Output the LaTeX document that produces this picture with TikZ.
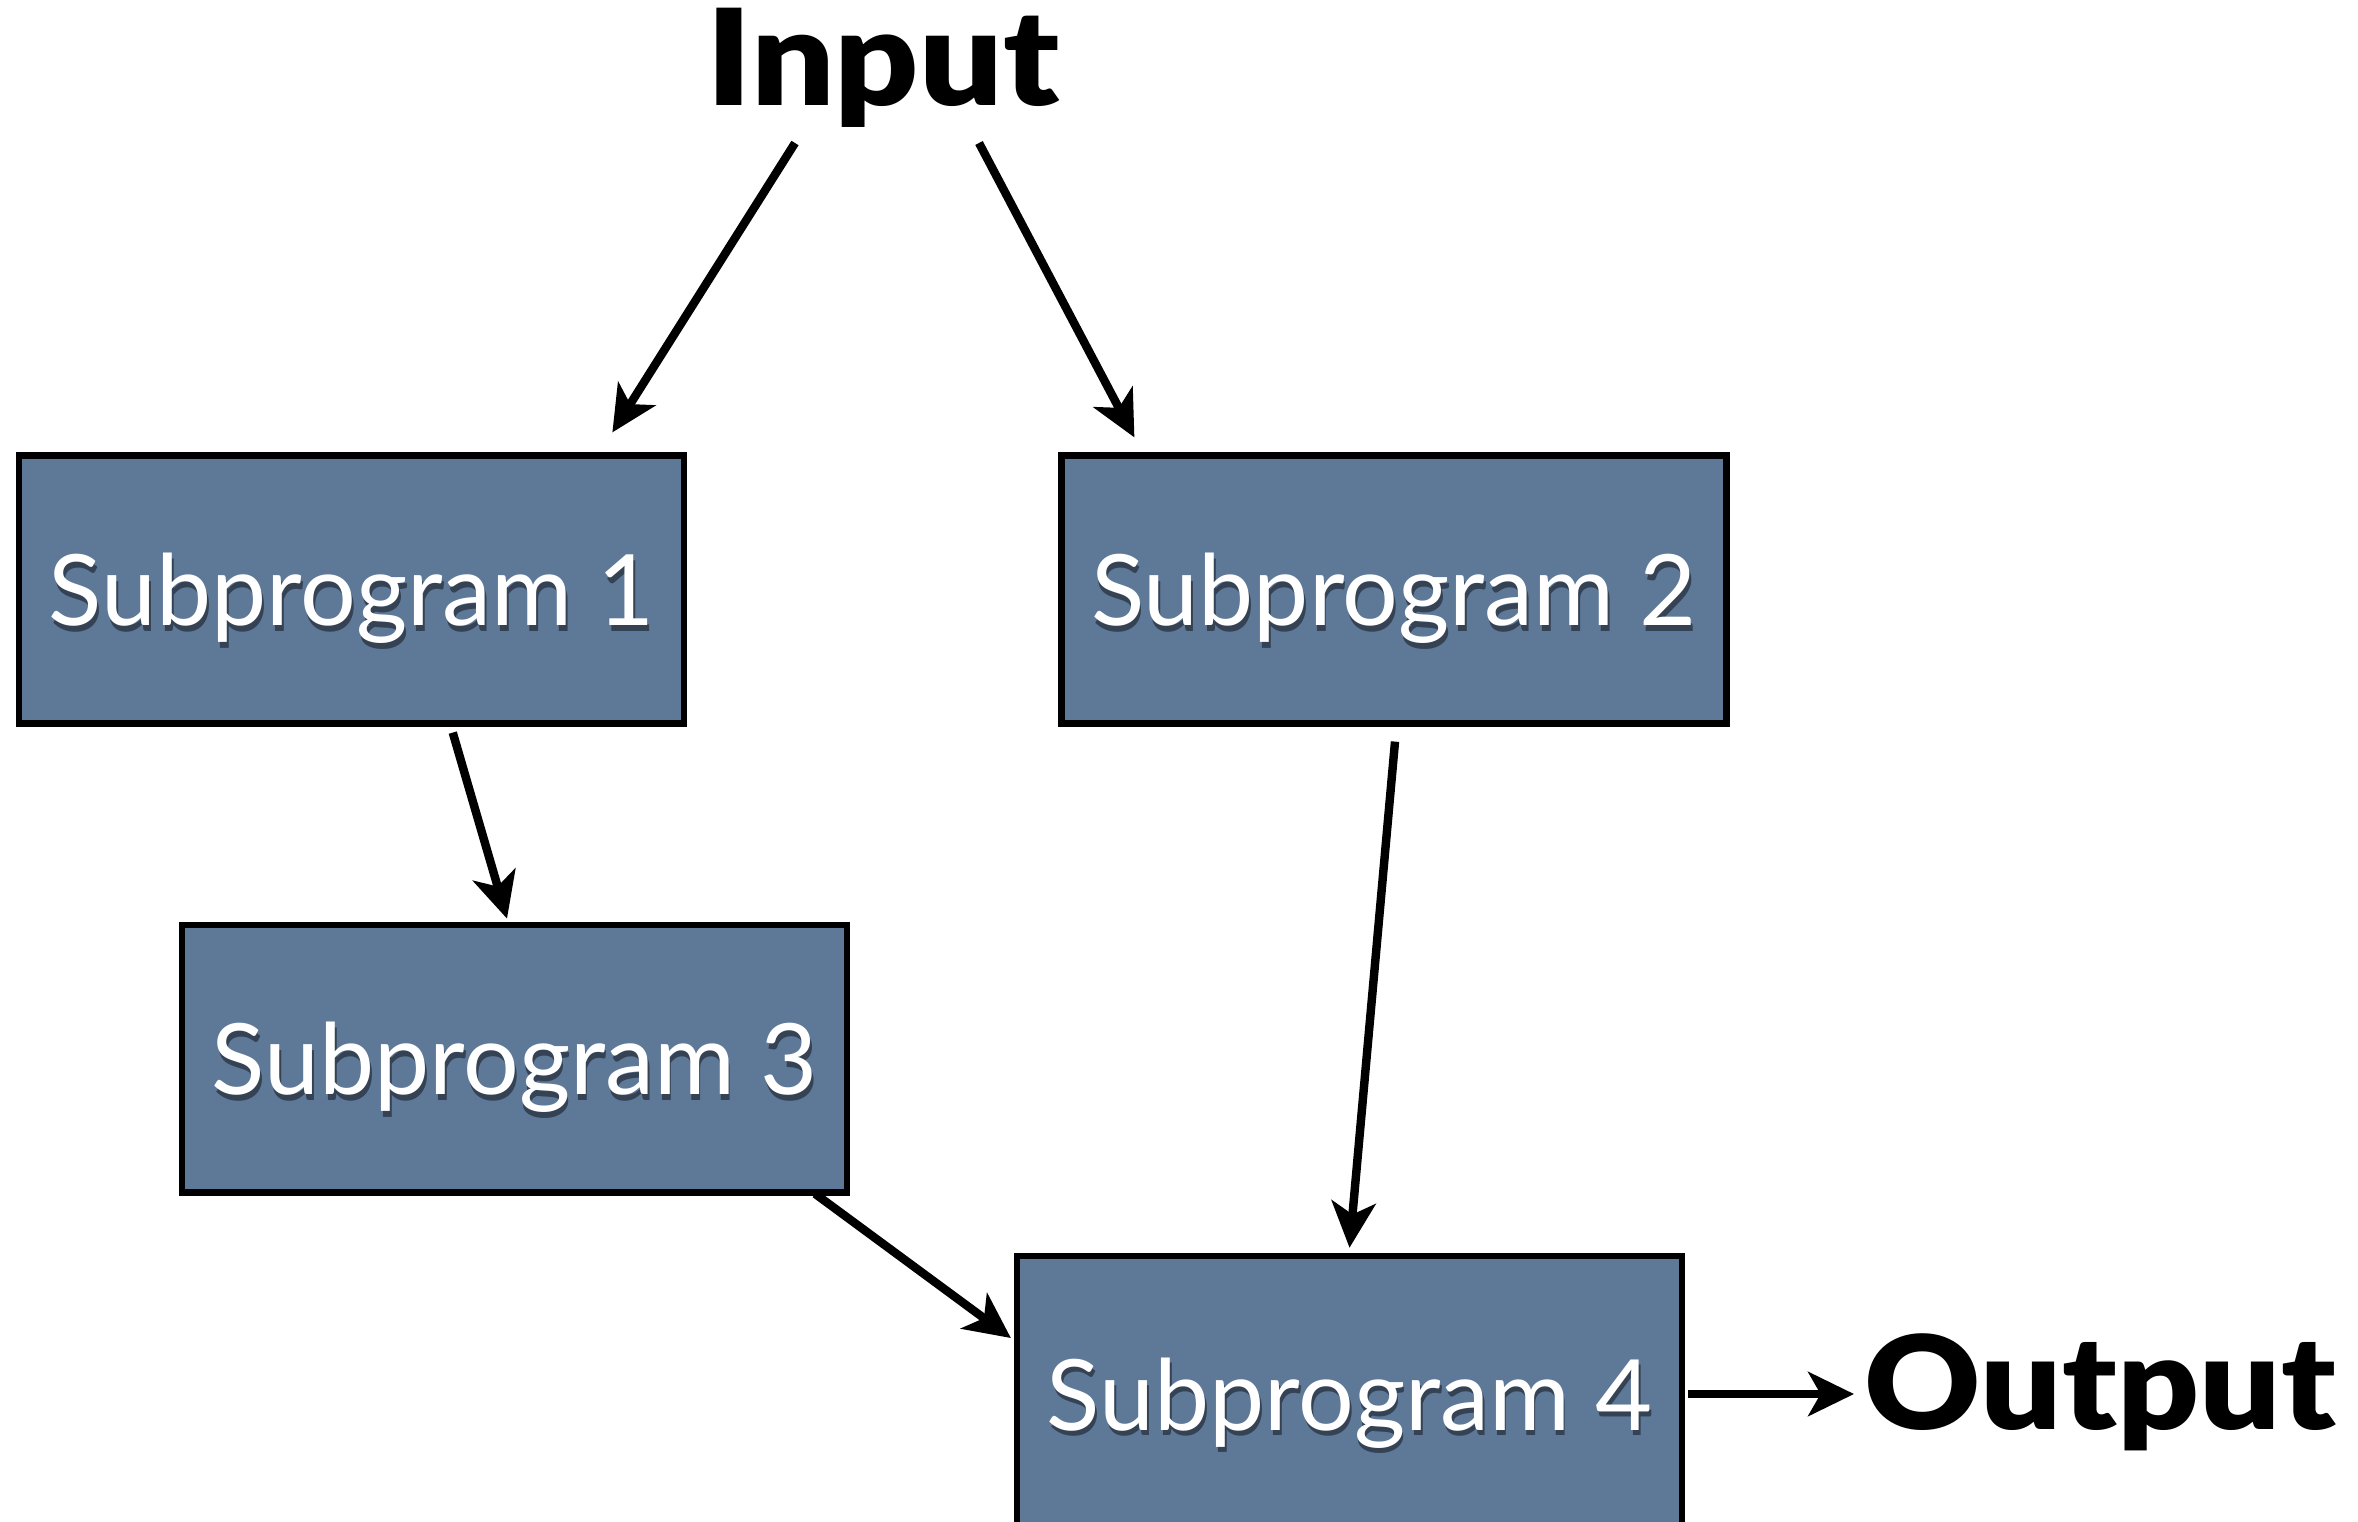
\documentclass[tikz,border=0pt]{standalone}
\usepackage{fontspec}
\setmainfont{Lato}
\newfontfamily\heavyfont[FakeStretch=1.1]{Lato Black}
\usetikzlibrary{arrows.meta,calc}
\definecolor{slate}{RGB}{94,120,152}
% white label text with a soft dark drop shadow
\newcommand\shadowed[1]{\leavevmode\rlap{\hspace{0.5pt}\raisebox{-1.5pt}{\textcolor{slate!55!black}{#1}}}\textcolor{white}{#1}}

\begin{document}
\begin{tikzpicture}[x=0.01cm,y=-0.01cm,
  subbox/.style={draw=black, line width=1.8pt, fill=slate,
    minimum width=6.645cm, minimum height=2.677cm, inner sep=0pt,
    text depth=0pt, font=\fontsize{28}{30}\selectfont},
  title/.style={inner sep=0pt, font=\heavyfont\fontsize{38}{40}\selectfont},
  flow/.style={line width=2.4pt, -{Stealth[length=13pt,width=12.5pt,inset=3.5pt]}}]

\useasboundingbox (0,0) rectangle (2358,1521);

% program boxes
\node[subbox] (b1) at (351.75,589.5) {\shadowed{Subprogram 1}};
\node[subbox] (b2) at (1394,589.5) {\shadowed{Subprogram 2}};
\node[subbox] (b3) at (514.5,1058.7) {\shadowed{Subprogram 3}};
\node[subbox, minimum height=2.76cm] (b4) at (1349.5,1394) {\shadowed{Subprogram 4}};

% input and output labels
\node[title, anchor=base] (in) at (883,105) {Input};
\node[title, font=\heavyfont\fontsize{37}{40}\selectfont, anchor=base west] (out) at (1864,1429) {Output};

% data flow
\draw[flow] ($(in.base)+(-88,38)$) -- ($(b1.north east)+(-75,-20)$);
\draw[flow] ($(in.base)+(96,38)$) -- ($(b2.north west)+(76,-15)$);
\draw[flow] ($(b1.south)+(101,6)$) -- ($(b3.north)+(-7.5,-3)$);
\draw[flow] ($(b2.south)+(1,15)$) -- ($(b4.north)+(0,-5)$);
\draw[flow] ($(b3.south east)+(-35,-2)$) -- ($(b4.west)+(-3,-56)$);
\draw[flow] ($(b4.east)+(3,0)$) -- ($(out.base west)+(-10,-35)$);
\end{tikzpicture}
\end{document}
